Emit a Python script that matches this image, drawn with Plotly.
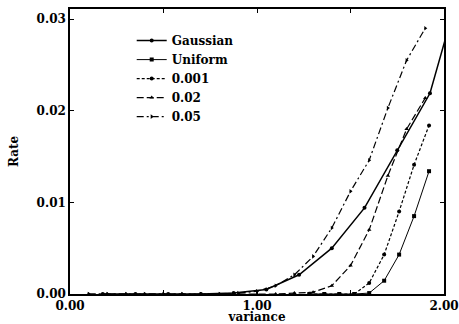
import plotly.graph_objects as go

# Data
gauss_x = [0.175, 0.35, 0.525, 0.7, 0.875, 1.05, 1.225, 1.4, 1.575, 1.75, 1.925, 2.1]
gauss_y = [0, 0, 0, 0, 0.0001, 0.0005, 0.0021, 0.0050, 0.0094, 0.0157, 0.0219, 0.0345]

unif_x = [1.28, 1.36, 1.44, 1.52, 1.6, 1.68, 1.76, 1.84, 1.92]
unif_y = [0, 0, 0, 0, 0.0001, 0.00145, 0.0043, 0.0085, 0.0134]

s001_x = [1.28, 1.36, 1.44, 1.52, 1.6, 1.68, 1.76, 1.84, 1.92]
s001_y = [0, 0, 0, 0, 0.0012, 0.0043, 0.0090, 0.0141, 0.0184]

s02_x = [0.1, 0.2, 0.3, 0.4, 0.5, 0.6, 0.7, 0.8, 0.9, 1.0, 1.1, 1.2, 1.3, 1.4, 1.5, 1.6, 1.7, 1.8, 1.9]
s02_y = [0, 0, 0, 0, 0, 0, 0, 0, 0, 0, 0, 0.0001, 0.0002, 0.0009, 0.0031, 0.0070, 0.0129, 0.0180, 0.0214]

s05_x = [0.1, 0.2, 0.3, 0.4, 0.5, 0.6, 0.7, 0.8, 0.9, 1.0, 1.1, 1.2, 1.3, 1.4, 1.5, 1.6, 1.7, 1.8, 1.9]
s05_y = [0, 0, 0, 0, 0, 0, 0, 0, 0.0001, 0.0003, 0.0009, 0.0021, 0.0041, 0.0072, 0.0112, 0.0146, 0.0203, 0.0255, 0.0290]

x_tickvals = [0, 0.5, 1.0, 1.5, 2.0]
x_ticktext = ["0.00", "", "1.00", "", "2.00"]
y_tickvals = [0, 0.01, 0.02, 0.03]
y_ticktext = ["0.00", "0.01", "0.02", "0.03"]

FONT = "DejaVu Serif"
FS = 12

fig = go.Figure()
series = [
    ("Gaussian", gauss_x, gauss_y, "solid", 1.5, "circle"),
    ("Uniform", unif_x, unif_y, "solid", 1.0, "square"),
    ("0.001", s001_x, s001_y, "3px,2px", 1.2, "circle"),
    ("0.02", s02_x, s02_y, "7px,3px", 1.2, "triangle-up"),
    ("0.05", s05_x, s05_y, "7px,3px,2px,3px", 1.2, "triangle-right"),
]
for name, xs, ys, dash, w, sym in series:
    fig.add_trace(go.Scatter(
        x=xs, y=ys, name=name, mode="lines+markers",
        line=dict(color="black", width=w, dash=dash),
        marker=dict(symbol=sym, size=4, color="black"),
        cliponaxis=True,
    ))

fig.update_layout(
    width=459, height=324,
    margin=dict(l=70, r=15, t=9, b=30),
    paper_bgcolor="white", plot_bgcolor="white",
    font=dict(family=FONT, size=FS, color="black", weight="bold"),
    showlegend=True,
    legend=dict(x=0.165, y=0.94, xanchor="left", yanchor="top",
                bgcolor="rgba(0,0,0,0)", font=dict(family=FONT, size=FS, color="black", weight="bold"),
                tracegroupgap=0, itemwidth=30),
    xaxis=dict(range=[0, 2.0], tickvals=x_tickvals, ticktext=x_ticktext,
               ticks="inside", ticklen=4, tickcolor="black", mirror="ticks",
               showline=True, linecolor="black", linewidth=1.5, showgrid=False, zeroline=False,
               automargin=False, ticklabeloverflow="allow",
               title=dict(text="variance", font=dict(family=FONT, size=FS, weight="bold")),
               tickfont=dict(family=FONT, size=FS, weight="bold")),
    yaxis=dict(range=[0, 0.0311], tickvals=y_tickvals, ticktext=y_ticktext,
               ticks="inside", ticklen=4, tickcolor="black", mirror="ticks",
               showline=True, linecolor="black", linewidth=1.5, showgrid=False, zeroline=False,
               automargin=False, ticklabeloverflow="allow",
               title=dict(text="Rate", font=dict(family=FONT, size=FS, weight="bold")),
               tickfont=dict(family=FONT, size=FS, weight="bold")),
)

fig.write_html("out.html")
